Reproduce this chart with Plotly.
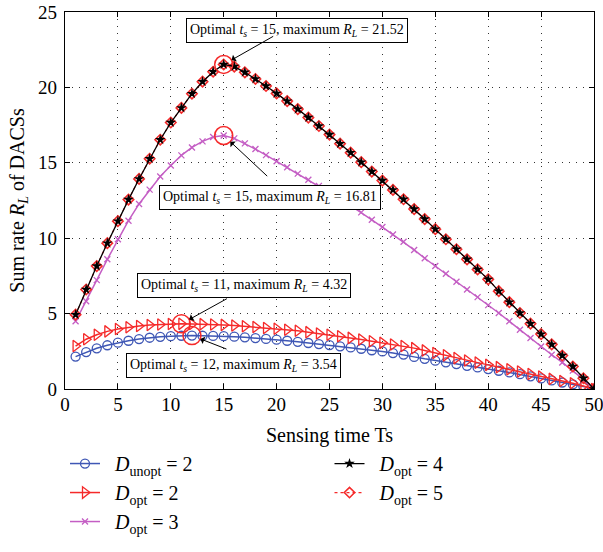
import numpy as np
import plotly.graph_objects as go

ts = list(range(1, 51))

r_unopt2 = [2.15, 2.45, 2.70, 2.90, 3.07, 3.20, 3.31, 3.40, 3.46, 3.50,
            3.53, 3.54, 3.53, 3.52, 3.50, 3.47, 3.43, 3.38, 3.32, 3.27,
            3.20, 3.13, 3.05, 2.98, 2.91, 2.83, 2.76, 2.67, 2.57, 2.49,
            2.38, 2.28, 2.13, 2.00, 1.88, 1.77, 1.65, 1.54, 1.43, 1.32,
            1.21, 1.10, 0.98, 0.84, 0.70, 0.57, 0.43, 0.31, 0.16, 0.00]

r_opt2 = [2.85, 3.30, 3.60, 3.82, 3.98, 4.10, 4.18, 4.24, 4.28, 4.31,
          4.32, 4.31, 4.30, 4.28, 4.25, 4.21, 4.16, 4.11, 4.05, 3.99,
          3.93, 3.86, 3.77, 3.68, 3.60, 3.50, 3.39, 3.28, 3.17, 3.06,
          2.95, 2.85, 2.71, 2.56, 2.39, 2.23, 2.05, 1.89, 1.75, 1.60,
          1.45, 1.31, 1.16, 1.00, 0.83, 0.67, 0.53, 0.38, 0.20, 0.00]

r_opt3 = [4.49, 5.82, 7.22, 8.60, 9.93, 11.16, 12.27, 13.22, 14.09, 14.82,
          15.49, 16.02, 16.42, 16.71, 16.81, 16.62, 16.29, 15.91, 15.51, 15.10,
          14.70, 14.28, 13.88, 13.47, 13.04, 12.60, 12.16, 11.71, 11.22, 10.74,
          10.25, 9.76, 9.22, 8.67, 8.16, 7.64, 7.11, 6.60, 6.09, 5.56,
          5.04, 4.49, 3.93, 3.38, 2.82, 2.27, 1.76, 1.22, 0.64, 0.00]

r_opt4 = [4.93, 6.60, 8.15, 9.67, 11.13, 12.56, 13.93, 15.27, 16.53, 17.67,
          18.64, 19.58, 20.38, 21.04, 21.52, 21.38, 21.00, 20.56, 20.09, 19.60,
          19.09, 18.56, 18.00, 17.44, 16.87, 16.27, 15.67, 15.04, 14.42, 13.82,
          13.20, 12.58, 11.93, 11.27, 10.60, 9.93, 9.27, 8.60, 7.93, 7.27,
          6.49, 5.76, 5.04, 4.33, 3.64, 2.96, 2.22, 1.49, 0.71, 0.00]

r_opt5 = [4.93, 6.60, 8.15, 9.67, 11.13, 12.56, 13.93, 15.27, 16.53, 17.67,
          18.64, 19.58, 20.38, 21.04, 21.52, 21.38, 21.00, 20.56, 20.09, 19.60,
          19.09, 18.56, 18.00, 17.44, 16.87, 16.27, 15.67, 15.04, 14.42, 13.82,
          13.20, 12.58, 11.93, 11.27, 10.60, 9.93, 9.27, 8.60, 7.93, 7.27,
          6.49, 5.76, 5.04, 4.33, 3.64, 2.96, 2.22, 1.49, 0.71, 0.00]

x_ticks = [0, 5, 10, 15, 20, 25, 30, 35, 40, 45, 50]
y_ticks = [0, 5, 10, 15, 20, 25]

FONT = "Liberation Serif"
BLUE = "#3F57B5"
RED = "#F52A2A"
PINK = "#C45EC4"
SP = "&nbsp;&nbsp;"

fig = go.Figure()

fig.add_trace(go.Scatter(
    x=ts, y=r_unopt2, mode="lines+markers", name=SP + "<i>D</i><sub>unopt</sub> = 2",
    line=dict(color=BLUE, width=1.5),
    marker=dict(symbol="circle-open", size=9, color=BLUE, line=dict(width=1.3)),
    legend="legend"))
fig.add_trace(go.Scatter(
    x=ts, y=r_opt2, mode="lines+markers", name=SP + "<i>D</i><sub>opt</sub> = 2",
    line=dict(color=RED, width=1.5),
    marker=dict(symbol="triangle-right-open", size=10, color=RED, line=dict(width=1.3)),
    legend="legend"))
fig.add_trace(go.Scatter(
    x=ts, y=r_opt3, mode="lines+markers", name=SP + "<i>D</i><sub>opt</sub> = 3",
    line=dict(color=PINK, width=1.5),
    marker=dict(symbol="x-thin", size=6, color=PINK, line=dict(width=1.3, color=PINK)),
    legend="legend"))
fig.add_trace(go.Scatter(
    x=ts, y=r_opt5, mode="lines+markers", name=SP + "<i>D</i><sub>opt</sub> = 5",
    line=dict(color=RED, width=1.2, dash="dot"),
    marker=dict(symbol="diamond-open", size=8, color=RED, line=dict(width=1.6)),
    legend="legend2", legendrank=2))
fig.add_trace(go.Scatter(
    x=ts, y=r_opt4, mode="lines+markers", name=SP + "<i>D</i><sub>opt</sub> = 4",
    line=dict(color="black", width=1.3),
    marker=dict(symbol="star", size=8, color="black"),
    legend="legend2", legendrank=1))

# peaks
series_list = [r_opt4, r_opt3, r_opt2, r_unopt2]
peaks = []
for s in series_list:
    i = int(np.argmax(s))
    peaks.append((ts[i], s[i]))

fig.add_trace(go.Scatter(
    x=[p[0] for p in peaks], y=[p[1] for p in peaks], mode="markers",
    marker=dict(symbol="circle-open", size=18, color=RED, line=dict(width=1.5)),
    showlegend=False, hoverinfo="skip"))

# annotation boxes (text position, arrow tail offset)
box_pos = [(21.97, 23.8), (19.38, 12.67), (16.9, 6.87), (15.97, 1.53)]
arrow_off = [(51, -29), (45, 42), (47, -26), (36, 14)]
anns = []
for (bx, by) in box_pos:
    pass
for (px, py), (bx, by) in zip(peaks, box_pos):
    anns.append(dict(
        x=bx, y=by, xref="x", yref="y", showarrow=False,
        text=f"Optimal <i>t<sub>s</sub></i> = {px}, maximum <i>R<sub>L</sub></i> = {py:.2f}",
        font=dict(family=FONT, size=14, color="black"),
        bgcolor="white", bordercolor="black", borderwidth=1, borderpad=3))
for (px, py), (ax, ay) in zip(peaks, arrow_off):
    anns.append(dict(
        x=px, y=py, xref="x", yref="y", ax=ax, ay=ay, axref="pixel", ayref="pixel",
        text="", showarrow=True, arrowhead=1, arrowsize=1.3, arrowwidth=1,
        arrowcolor="black", standoff=9))

axis_common = dict(
    showline=True, linecolor="black", linewidth=1.3, mirror="ticks",
    ticks="inside", ticklen=5, tickcolor="black", tickwidth=1,
    showgrid=True, gridcolor="#333333", gridwidth=1, griddash="1px,6px",
    zeroline=False, automargin=False, ticklabeloverflow="allow",
    tickfont=dict(family=FONT, size=19, color="black"))

fig.update_xaxes(range=[0, 50], tickvals=x_ticks, ticktext=[str(v) for v in x_ticks],
                 ticklabelstandoff=-2,
                 title=dict(text="Sensing time Ts", font=dict(family=FONT, size=20, color="black"),
                            standoff=14),
                 **axis_common)
fig.update_yaxes(range=[0, 25], tickvals=y_ticks, ticktext=[str(v) for v in y_ticks],
                 ticklabelstandoff=3,
                 title=dict(text="Sum rate <i>R<sub>L</sub></i> of DACSs",
                            font=dict(family=FONT, size=20, color="black"), standoff=8),
                 **axis_common)

legend_font = dict(family=FONT, size=20, color="black")
fig.update_layout(
    width=603, height=552,
    margin=dict(l=65, r=9, t=12, b=163, autoexpand=False),
    plot_bgcolor="white", paper_bgcolor="white",
    font=dict(family=FONT, color="black"),
    annotations=anns,
    legend=dict(x=0.0, y=-0.146, xref="paper", yref="paper", xanchor="left", yanchor="top",
                font=legend_font, bgcolor="rgba(0,0,0,0)", tracegroupgap=0, itemwidth=30),
    legend2=dict(x=0.5, y=-0.146, xref="paper", yref="paper", xanchor="left", yanchor="top",
                 font=legend_font, bgcolor="rgba(0,0,0,0)", tracegroupgap=0, itemwidth=30),
)

fig.write_html("out.html", config={"displayModeBar": False},
               post_script="document.body.style.margin='0';document.body.style.overflow='hidden';")
